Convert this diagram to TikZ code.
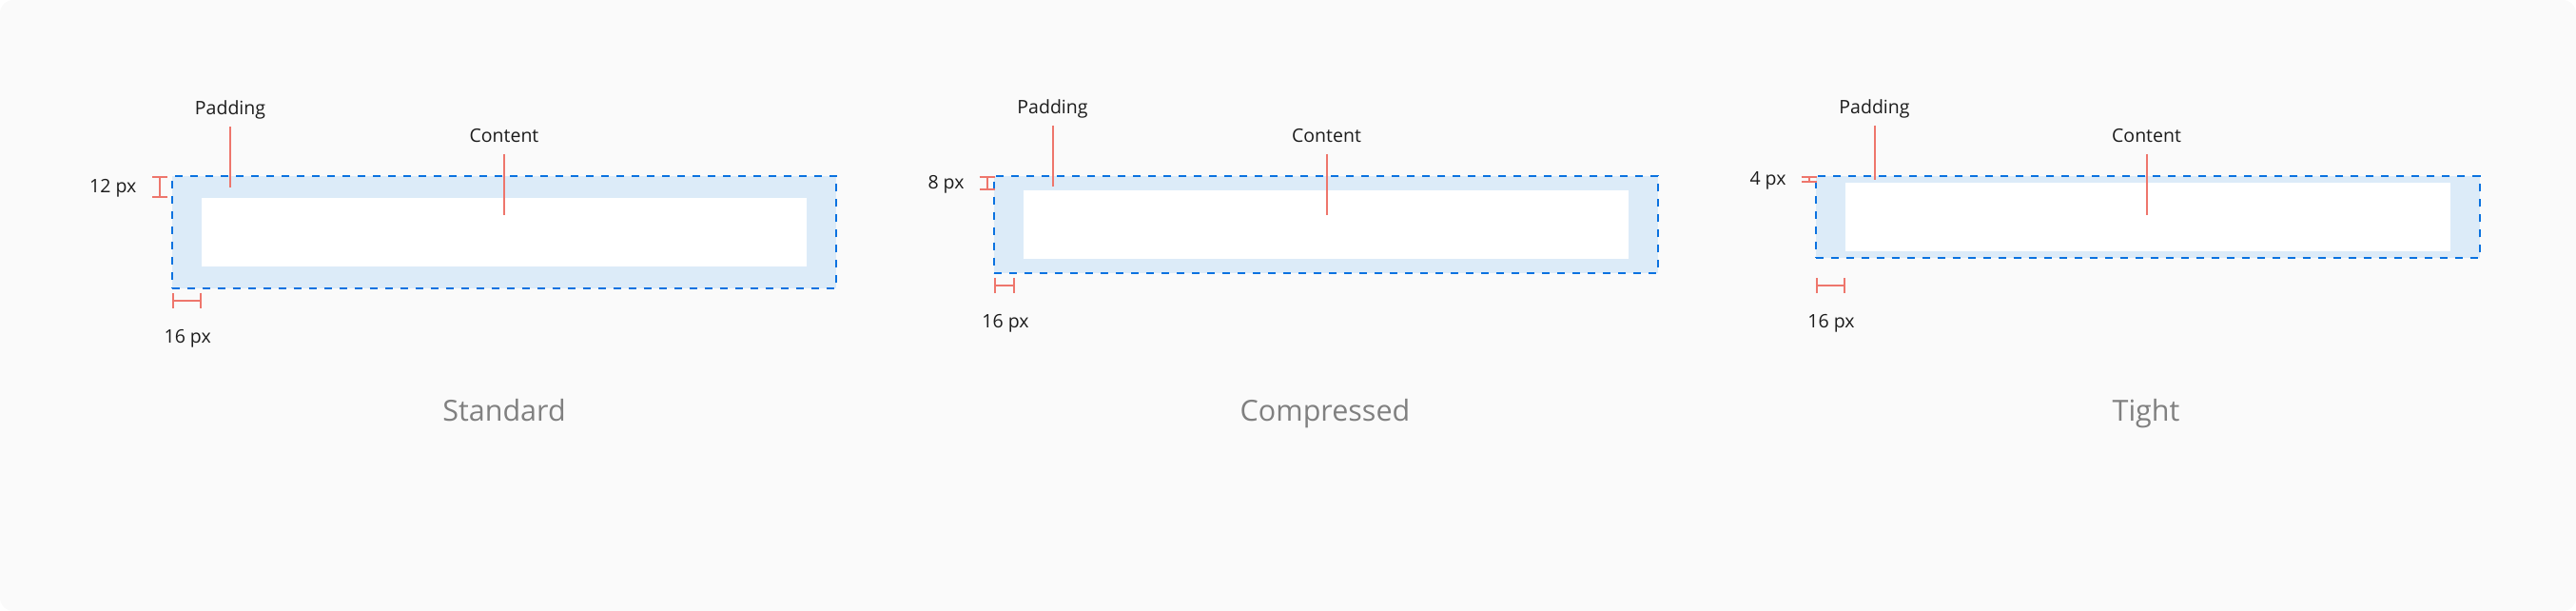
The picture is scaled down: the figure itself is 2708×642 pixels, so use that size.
\documentclass[tikz,border=0pt]{standalone}
\usepackage{fontspec}
\setmainfont{Open Sans}
\usepackage{xcolor}
\usepackage{tikz}
\usetikzlibrary{arrows.meta}
\definecolor{myblue}{HTML}{0A72E0}
\definecolor{mypale}{HTML}{DCEBF8}
\definecolor{myred}{HTML}{EE766C}
\definecolor{mygray}{HTML}{808080}
\definecolor{mybg}{HTML}{FAFAFA}
\definecolor{myink}{HTML}{1C1C1C}
\tikzstyle{padbox} = [draw=myblue,fill=mypale,line width=2pt,dash pattern=on 8pt off 8pt,outer sep=0pt,inner sep=0pt,anchor=north west]
\tikzstyle{contentbox} = [fill=white,outer sep=0pt,inner sep=0pt,anchor=north west]
\tikzstyle{leader} = [color=myred,line width=2pt]
\tikzstyle{dim} = [color=myred,line width=2pt,{Bar[width=16pt]}-{Bar[width=16pt]}]
\tikzstyle{lbl} = [text=myink,inner sep=0pt,text depth=0.25em,anchor=base,font=\fontsize{19.5}{23}\selectfont]
\tikzstyle{title} = [text=mygray,inner sep=0pt,anchor=base,font=\fontsize{30.5}{36}\selectfont]

\begin{document}
\begin{tikzpicture}[x=1pt,y=-1pt]
          % basics
          \useasboundingbox (0,0) rectangle (2708,642);
          \fill[white] (0,0) rectangle (2708,642);
          \fill[mybg,rounded corners=14pt] (0,0) rectangle (2708,642);
          % standard
          \node[padbox,minimum width=698.6pt,minimum height=117.7pt] (boxS) at (180.7,185){};
          \node[contentbox,minimum width=636pt,minimum height=72pt] (cntS) at (212,208){};
          \node[lbl] (padS) at (242,120.7){Padding};
          \node[lbl] (conS) at (530,149){Content};
          \coordinate (padS tip) at (242,197);
          \coordinate (conS tip) at (530,225.7);
          \draw [leader] ([yshift=-10pt]padS.south) -- (padS tip);
          \draw [leader] ([yshift=-10pt]conS.south) -- (conS tip);
          \coordinate (dimS a) at ([xshift=-12.4pt]boxS.north west);
          \coordinate (dimS b) at ([yshift=-13pt]boxS.south west);
          \draw [dim] (dimS a) -- (dimS a |- cntS.north);
          \draw [dim] (dimS b) -- (dimS b -| cntS.west);
          \node[lbl] (dimS v) at (118.8,202.7){12 px};
          \node[lbl] (dimS h) at (197.2,360.7){16 px};
          \node[title] (titS) at (530,442){Standard};
          % compressed
          \node[padbox,minimum width=698.3pt,minimum height=101.7pt] (boxC) at (1045,185){};
          \node[contentbox,minimum width=636pt,minimum height=72.3pt] (cntC) at (1076,200){};
          \node[lbl] (padC) at (1106.5,119){Padding};
          \node[lbl] (conC) at (1394.5,149){Content};
          \coordinate (padC tip) at (1106.5,195.7);
          \coordinate (conC tip) at (1394.5,225.7);
          \draw [leader] ([yshift=-10pt]padC.south) -- (padC tip);
          \draw [leader] ([yshift=-10pt]conC.south) -- (conC tip);
          \coordinate (dimC a) at ([xshift=-7.3pt]boxC.north west);
          \coordinate (dimC b) at ([yshift=-13.3pt]boxC.south west);
          \coordinate (dimC c) at ([xshift=22pt]dimC b);
          \draw [dim] (dimC a) -- (dimC a |- cntC.north);
          \draw [dim] (dimC b) -- (dimC c);
          \node[lbl] (dimC v) at (994.5,198.3){8 px};
          \node[lbl] (dimC h) at (1057,344){16 px};
          \node[title] (titC) at (1393,442){Compressed};
          % tight
          \node[padbox,minimum width=698.3pt,minimum height=86pt] (boxT) at (1908.7,185){};
          \node[contentbox,minimum width=636pt,minimum height=71.7pt] (cntT) at (1940,192){};
          \node[lbl] (padT) at (1970.5,119){Padding};
          \node[lbl] (conT) at (2256.5,149){Content};
          \coordinate (padT tip) at (1970.5,189);
          \coordinate (conT tip) at (2256.5,225.7);
          \draw [leader] ([yshift=-10pt]padT.south) -- (padT tip);
          \draw [leader] ([yshift=-10pt]conT.south) -- (conT tip);
          \coordinate (dimT a) at ([xshift=-7pt]boxT.north west);
          \coordinate (dimT b) at ([yshift=-29pt]boxT.south west);
          \draw [dim] (dimT a) -- (dimT a |- cntT.north);
          \draw [dim] (dimT b) -- (dimT b -| cntT.west);
          \node[lbl] (dimT v) at (1858.5,194.3){4 px};
          \node[lbl] (dimT h) at (1925,344){16 px};
          \node[title] (titT) at (2256,442){Tight};
\end{tikzpicture}
\end{document}
